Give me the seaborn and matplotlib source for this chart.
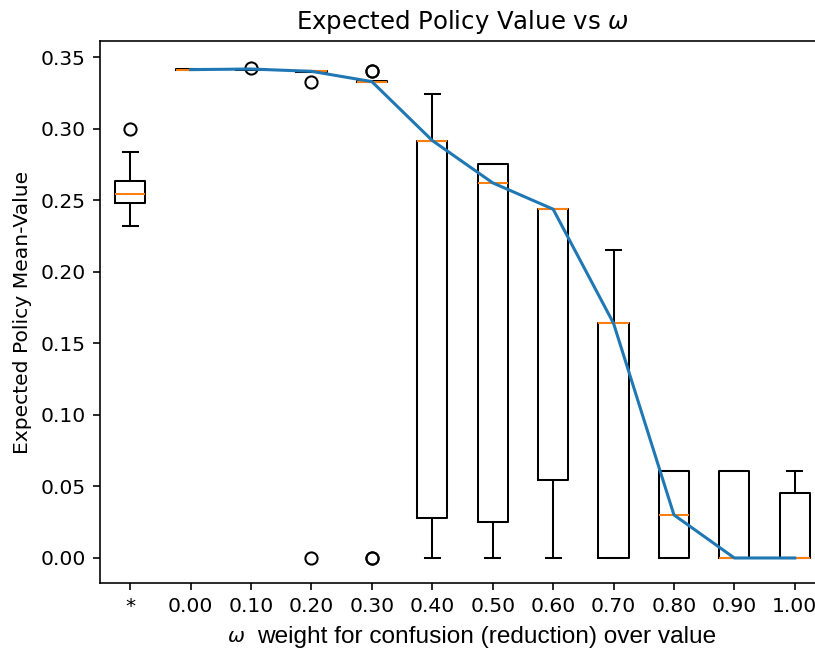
import matplotlib
matplotlib.use("Agg")
import matplotlib.pyplot as plt
import seaborn as sns
import numpy as np

# ---- data ----
labels = ['*', '0.00', '0.10', '0.20', '0.30', '0.40', '0.50', '0.60', '0.70', '0.80', '0.90', '1.00']
medians = [0.2542, 0.3415, 0.3419, 0.3403, 0.3331, 0.2919, 0.2623, 0.2439, 0.1641, 0.0301, 0.0, 0.0]
q1s     = [0.2479, 0.3412, 0.3415, 0.3400, 0.3328, 0.0281, 0.0254, 0.0547, 0.0, 0.0, 0.0, 0.0]
q3s     = [0.2635, 0.3418, 0.3422, 0.3406, 0.3334, 0.2919, 0.2758, 0.2439, 0.1641, 0.0608, 0.0608, 0.0456]
whislos = [0.2318, 0.3412, 0.3415, 0.3400, 0.3328, 0.0, 0.0, 0.0, 0.0, 0.0, 0.0, 0.0]
whishis = [0.2839, 0.3418, 0.3422, 0.3406, 0.3334, 0.3243, 0.2758, 0.2439, 0.2151, 0.0608, 0.0608, 0.0608]
fliers  = [[0.30], [], [0.3426], [0.3328, 0.0], [0.3403, 0.3403, 0.0, 0.0],
           [], [], [], [], [], [], []]

S = 1.46  # scale relative to matplotlib defaults

fig = plt.figure(figsize=(8.15, 6.49), dpi=100)
AX_L, AX_B, AX_W, AX_H = 100, 583, 725, 542  # pixels
ax = fig.add_axes([AX_L / 815, (649 - AX_B) / 649, AX_W / 815, AX_H / 649])

stats = []
for i in range(len(labels)):
    stats.append(dict(med=medians[i], q1=q1s[i], q3=q3s[i],
                      whislo=whislos[i], whishi=whishis[i], fliers=fliers[i]))

positions = np.arange(1, len(labels) + 1)
ax.bxp(stats, positions=positions, widths=0.5,
       boxprops=dict(color='black', linewidth=1.0 * S),
       whiskerprops=dict(color='black', linewidth=1.0 * S),
       capprops=dict(color='black', linewidth=1.0 * S),
       medianprops=dict(color='#ff7f0e', linewidth=1.0 * S),
       flierprops=dict(marker='o', markerfacecolor='none', markeredgecolor='black',
                       markersize=6 * S, markeredgewidth=1.0 * S))

sns.lineplot(x=positions[1:], y=medians[1:], ax=ax, color='#1f77b4',
             linewidth=1.5 * S, zorder=5)

ax.set_xlim(0.5, 12.5)
ax.set_ylim(-0.0175, 0.3615)
ax.set_xticks(positions)
ax.set_xticklabels(labels)
ax.set_yticks([0.0, 0.05, 0.10, 0.15, 0.20, 0.25, 0.30, 0.35])
ax.set_yticklabels(['0.00', '0.05', '0.10', '0.15', '0.20', '0.25', '0.30', '0.35'])
ax.tick_params(labelsize=10 * S, width=0.8 * S, length=3.5 * S, pad=3.5 * S)
for sp in ax.spines.values():
    sp.set_linewidth(0.8 * S)

ax.set_title(r'Expected Policy Value vs $\omega$', fontsize=12 * S, pad=6 * S)

base_y = -(642.5 - AX_B) / AX_H
ax.set_xlabel('weight for confusion (reduction) over value',
              fontsize=12 * S, family='Liberation Sans', ha='left', va='baseline')
ax.xaxis.set_label_coords((257 - AX_L) / AX_W, base_y)
ax.text((227 - AX_L) / AX_W, base_y, r'$\omega$', transform=ax.transAxes,
        fontsize=10 * S, ha='left', va='baseline', clip_on=False)
ax.set_ylabel('Expected Policy Mean-Value', fontsize=10 * S, labelpad=4 * S)

fig.savefig('out.png', dpi=100)
